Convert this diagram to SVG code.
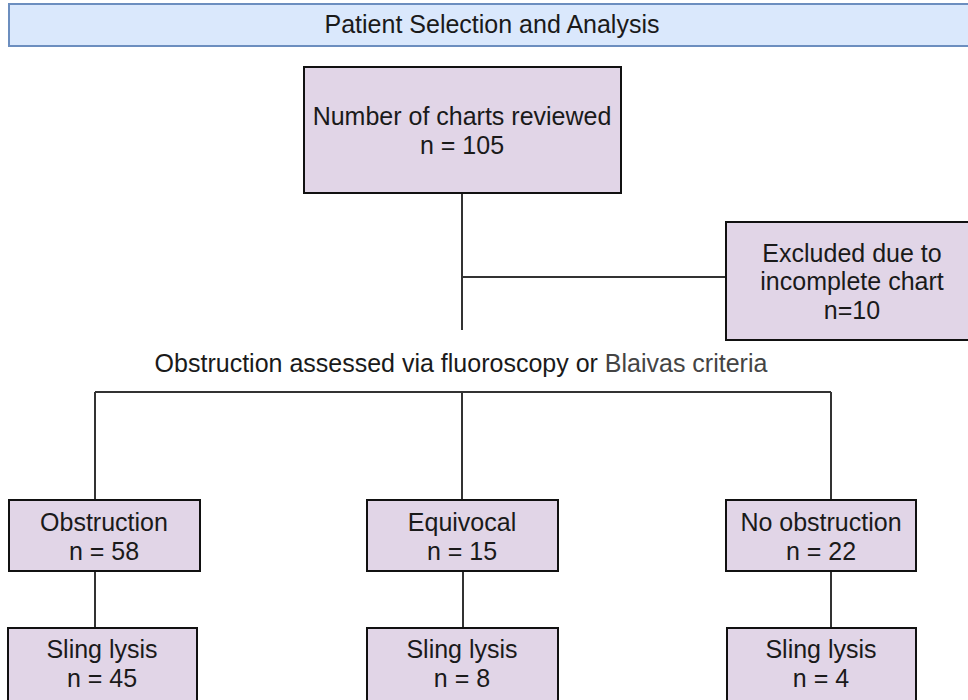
<svg xmlns="http://www.w3.org/2000/svg" width="968" height="700" viewBox="0 0 968 700">
<style>
text{font-family:"Liberation Sans",Arial,Helvetica,sans-serif;font-size:25px;fill:#1a1a1a;text-anchor:middle}
.box{fill:#e1d5e7;stroke:#111;stroke-width:2}
.hdr{fill:#dae8fc;stroke:#6c8ebf;stroke-width:2}
.con{stroke:#333;stroke-width:2;fill:none}
</style>
<rect width="968" height="700" fill="#fff"/>
<g id="header">
<rect class="hdr" x="9" y="4" width="970" height="42"/>
<text x="492" y="33">Patient Selection and Analysis</text>
</g>
<g id="connectors">
<path class="con" d="M462 193V330M462 277H726M95 392H831M95 392V500M462 392V500M831 392V500M95 571V628M463 571V628M831 571V628"/>
</g>
<g id="charts">
<rect class="box" x="304" y="67" width="317" height="126"/>
<text x="462" y="125">Number of charts reviewed</text>
<text x="462" y="154">n = 105</text>
</g>
<g id="excluded">
<rect class="box" x="726" y="222" width="260" height="118"/>
<text x="852" y="262">Excluded due to</text>
<text x="852" y="290">incomplete chart</text>
<text x="852" y="319">n=10</text>
</g>
<g id="assessed">
<text x="461" y="372">Obstruction assessed via fluoroscopy or <tspan fill="#444">Blaivas criteria</tspan></text>
</g>
<g id="obstruction">
<rect class="box" x="9" y="500" width="191" height="71"/>
<text x="104" y="531">Obstruction</text>
<text x="104" y="560">n = 58</text>
</g>
<g id="equivocal">
<rect class="box" x="367" y="500" width="191" height="71"/>
<text x="462" y="531">Equivocal</text>
<text x="462" y="560">n = 15</text>
</g>
<g id="noobstruction">
<rect class="box" x="726" y="500" width="190" height="71"/>
<text x="821" y="531">No obstruction</text>
<text x="821" y="560">n = 22</text>
</g>
<g id="sling1">
<rect class="box" x="8" y="628" width="189" height="80"/>
<text x="102" y="658">Sling lysis</text>
<text x="102" y="687">n = 45</text>
</g>
<g id="sling2">
<rect class="box" x="367" y="628" width="191" height="80"/>
<text x="462" y="658">Sling lysis</text>
<text x="462" y="687">n = 8</text>
</g>
<g id="sling3">
<rect class="box" x="727" y="628" width="189" height="80"/>
<text x="821" y="658">Sling lysis</text>
<text x="821" y="687">n = 4</text>
</g>
</svg>
